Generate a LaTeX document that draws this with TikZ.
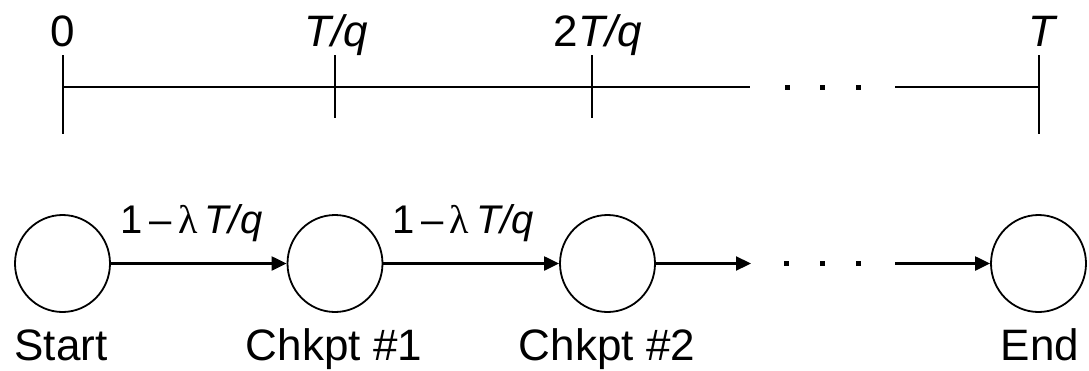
\documentclass[tikz,border=0pt]{standalone}
\usepackage{fontspec}
\setmainfont{Liberation Sans}
\newfontfamily\symf{Liberation Serif}
\usetikzlibrary{arrows.meta,shapes.geometric}
\begin{document}
\begin{tikzpicture}[x=1pt,y=-1pt,
  axis/.style={line width=2.2pt},
  state/.style={draw,line width=1.8pt,ellipse,minimum width=95pt,minimum height=97pt,inner sep=0pt},
  edge/.style={line width=2.2pt,-{Triangle[length=15pt,width=14pt]}},
  dotmark/.style={rectangle,fill=black,minimum size=5pt,inner sep=0pt},
  big/.style={font=\fontsize{44}{48}\selectfont,anchor=base,inner sep=0pt},
  elab/.style={font=\fontsize{40}{44}\selectfont,anchor=base,inner sep=0pt}]
\useasboundingbox (0,0) rectangle (1089,370);
% timeline
\coordinate (a0) at (63,87);
\coordinate (a1) at (335,87);
\coordinate (a2) at (592,87);
\coordinate (aL) at (750,87);
\coordinate (aR) at (895,87);
\coordinate (a3) at (1039,87);
\draw[axis] (a0) -- (aL);
\draw[axis] (aR) -- (a3);
\draw[axis] (63,55) -- (63,134);
\draw[axis] (335,55) -- (335,118);
\draw[axis] (592,55) -- (592,118);
\draw[axis] (1039,55) -- (1039,134);
\node[dotmark] (t1) at (787,87) {};
\node[dotmark] (t2) at (822,87) {};
\node[dotmark] (t3) at (858,87) {};
\node[big] (l0) at (63,46) {0};
\node[big] (l1) at (336,46) {\textit{T/q}};
\node[big] (l2) at (598,46) {2\textit{T/q}};
\node[big] (l3) at (1043,46) {\textit{T}};
% states
\node[state] (s0) at (62.5,263.5) {};
\node[state] (s1) at (335,263.5) {};
\node[state] (s2) at (607.5,263.5) {};
\node[state] (s3) at (1038.5,263.5) {};
\coordinate (e3) at (751,263.5);
\coordinate (e4) at (895,263.5);
\draw[edge] (s0) -- (s1);
\draw[edge] (s1) -- (s2);
\draw[edge] (s2) -- (e3);
\draw[edge] (e4) -- (s3);
\node[dotmark] (d1) at (786,263.5) {};
\node[dotmark] (d2) at (822,263.5) {};
\node[dotmark] (d3) at (858,263.5) {};
\node[elab] (w1) at (191.5,233) {1\,–\,{\symf λ}\,\textit{T/q}};
\node[elab] (w2) at (463,233) {1\,–\,{\symf λ}\,\textit{T/q}};
\node[big] (n0) at (61,360) {Start};
\node[big] (n1) at (334,360) {Chkpt \#1};
\node[big] (n2) at (607,360) {Chkpt \#2};
\node[big] (n3) at (1040,360) {End};
\end{tikzpicture}
\end{document}
